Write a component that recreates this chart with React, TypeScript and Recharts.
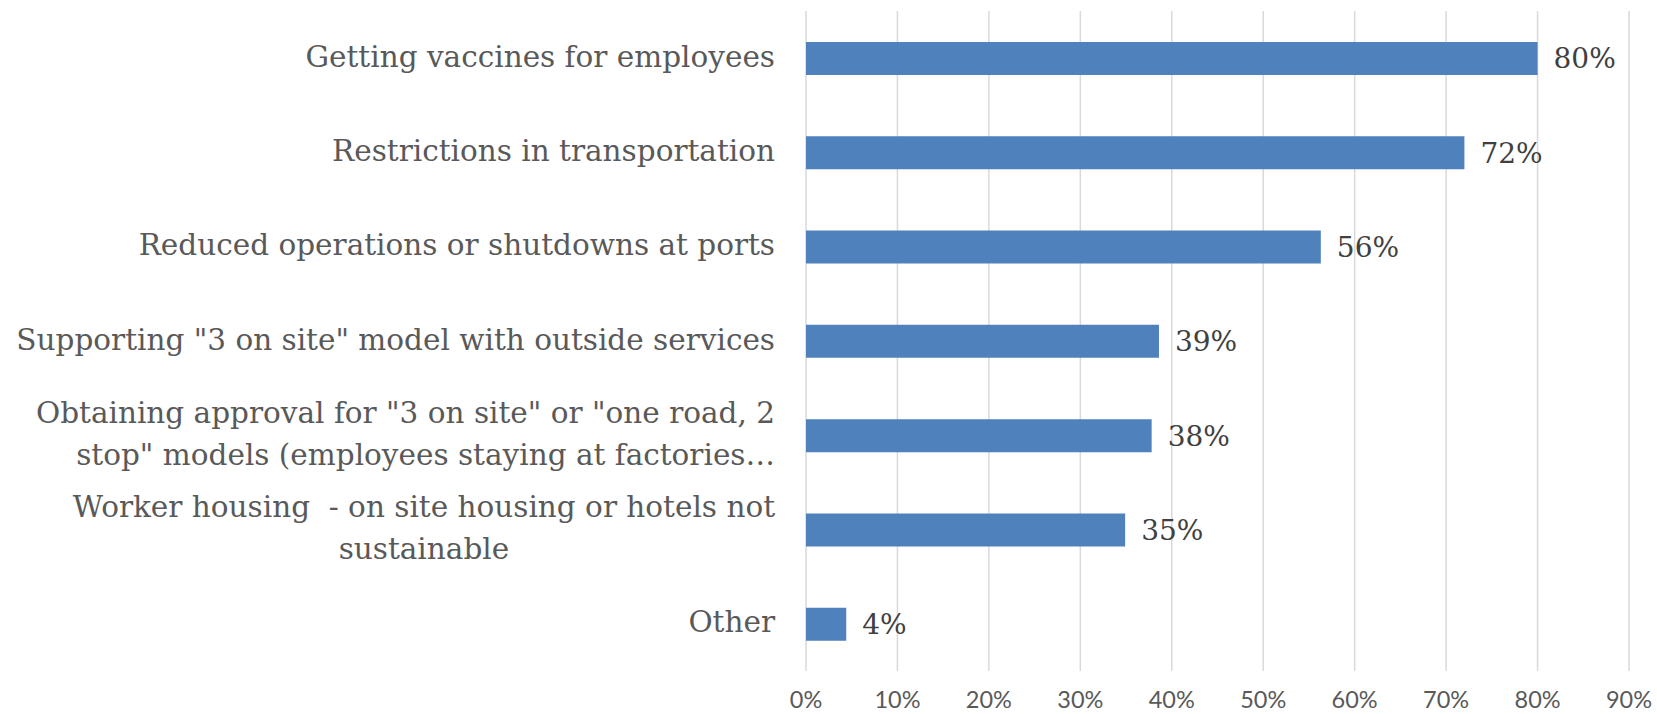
import { BarChart, Bar, XAxis, YAxis, CartesianGrid, LabelList } from 'recharts'

const categories = [
  'Getting vaccines for employees',
  'Restrictions in transportation',
  'Reduced operations or shutdowns at ports',
  'Supporting "3 on site" model with outside services',
  'Obtaining approval for "3 on site" or "one road, 2\nstop" models (employees staying at factories…',
  'Worker housing  - on site housing or hotels not\nsustainable',
  'Other',
]

const shares = [80, 72, 56.3, 38.6, 37.8, 34.9, 4.4]

const xTicks = [0, 10, 20, 30, 40, 50, 60, 70, 80, 90]

const data = categories.map((name, i) => ({ name, value: shares[i] }))

const SERIF = '"DejaVu Serif", serif'
const LABEL_SIZE = 29.5
const LINE_HEIGHT = 42.5

let measureCtx: CanvasRenderingContext2D | null = null
const measure = (text: string) => {
  if (!measureCtx) {
    measureCtx = document.createElement('canvas').getContext('2d')
  }
  if (!measureCtx) return text.length * LABEL_SIZE * 0.5
  measureCtx.font = `${LABEL_SIZE}px "DejaVu Serif"`
  return measureCtx.measureText(text).width
}

const CategoryTick = (props: any) => {
  const { x, y, payload } = props
  const lines: string[] = String(payload.value).split('\n')
  const right = x - 31
  const widths = lines.map(measure)
  const block = Math.max(...widths)
  const centerX = right - block / 2
  const first = y + 8.5 - ((lines.length - 1) * LINE_HEIGHT) / 2
  return (
    <g>
      {lines.map((line, i) => {
        // near-full lines sit flush right, short ones are centred under the block
        const flush = lines.length === 1 || widths[i] > block * 0.9
        return (
          <text
            key={i}
            x={flush ? right : centerX}
            y={first + i * LINE_HEIGHT}
            textAnchor={flush ? 'end' : 'middle'}
            fill="#595959"
            fontFamily={SERIF}
            fontSize={LABEL_SIZE}
            style={{ whiteSpace: 'pre' }}
          >
            {line}
          </text>
        )
      })}
    </g>
  )
}

const PercentTick = (props: any) => {
  const { x, y, payload } = props
  return (
    <text x={x} y={y + 37} textAnchor="middle" fill="#595959" fontFamily="Lato, sans-serif" fontSize={23.5}>
      {`${payload.value}%`}
    </text>
  )
}

export default function App() {
  return (
    <div style={{ position: 'absolute', left: 0, top: 0, width: 1657, height: 714, background: '#fff' }}>
      <BarChart
        width={1657}
        height={714}
        data={data}
        layout="vertical"
        margin={{ top: 11, right: 28, bottom: 0, left: 0 }}
        barCategoryGap={0}
      >
        <CartesianGrid horizontal={false} stroke="#d9d9d9" strokeWidth={1.5} />
        <XAxis
          type="number"
          domain={[0, 90]}
          ticks={xTicks}
          axisLine={false}
          tickLine={false}
          tickSize={0}
          tickMargin={0}
          height={43}
          tick={<PercentTick />}
          interval={0}
        />
        <YAxis
          type="category"
          dataKey="name"
          width={806}
          axisLine={false}
          tickLine={false}
          tickSize={0}
          tickMargin={0}
          tick={<CategoryTick />}
          interval={0}
        />
        <Bar dataKey="value" fill="#4f81bd" barSize={33} isAnimationActive={false}>
          <LabelList
            dataKey="value"
            position="right"
            offset={16}
            formatter={(v: any) => `${Math.round(Number(v))}%`}
            fill="#404040"
            fontFamily={SERIF}
            fontSize={28}
          />
        </Bar>
      </BarChart>
    </div>
  )
}
